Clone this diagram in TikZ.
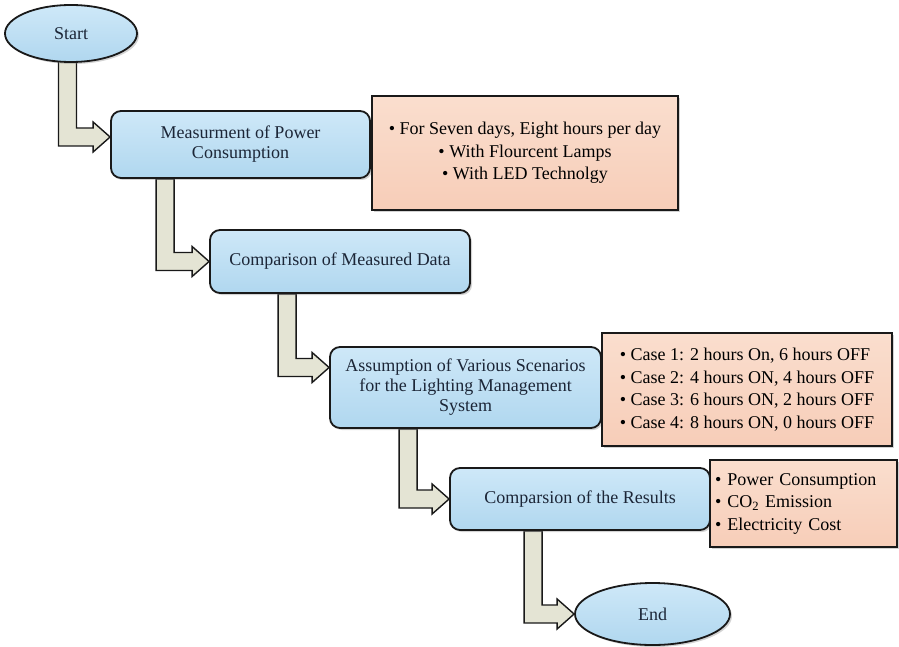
\documentclass[tikz,border=0pt]{standalone}
\usepackage{fontspec}
\setmainfont{Liberation Serif}
\usepackage{tikz}
\usetikzlibrary{positioning, shapes, shadows, calc, backgrounds}
\definecolor{boxblue}{RGB}{176,215,239}
\definecolor{boxtop}{RGB}{206,232,248}
\definecolor{peach}{RGB}{247,205,184}
\definecolor{peachtop}{RGB}{250,222,206}
\definecolor{shaftfill}{RGB}{228,228,212}
\definecolor{inkline}{RGB}{25,25,25}
\definecolor{txt}{RGB}{28,38,55}
\tikzset{
  flowbox/.style={draw=inkline, line width=1.8pt, rounded corners=10pt,
    top color=boxtop, bottom color=boxblue, text=txt, align=center,
    font=\fontsize{18}{20}\selectfont,
    drop shadow={shadow xshift=2pt, shadow yshift=-2pt, opacity=0.35}},
  term/.style={flowbox, ellipse, rounded corners=0pt},
  infobox/.style={draw=inkline, line width=1.8pt, top color=peachtop,
    bottom color=peach, text=black, font=\fontsize{18}{22.5}\selectfont,
    drop shadow={shadow xshift=2pt, shadow yshift=-2pt, opacity=0.35}},
  flowarr/.style={draw=inkline, line width=1.4pt, fill=shaftfill, line join=miter}}
% L-shaped block arrow: #1 top of the shaft, #2 tip
\newcommand{\flowarrow}[2]{%
  \draw[flowarr] let \p1=(#1), \p2=(#2) in
    (\x1-9pt,\y1) -- (\x1-9pt,\y2-9pt) -- (\x2-17pt,\y2-9pt) -- (\x2-17pt,\y2-15pt)
    -- (\x2,\y2) -- (\x2-17pt,\y2+15pt) -- (\x2-17pt,\y2+9pt) -- (\x1+9pt,\y2+9pt)
    -- (\x1+9pt,\y1) -- cycle;}

\begin{document}
\begin{tikzpicture}[x=1pt, y=-1pt]
  \useasboundingbox (0,0) rectangle (899,647);
  \node[term, minimum width=132pt, minimum height=57pt] (start) at (71,33.5) {Start};
  \node[flowbox, minimum width=259pt, minimum height=67pt] (a) at (240.5,144.5)
    {Measurment of Power\\Consumption};
  \node[flowbox, minimum width=260pt, minimum height=63pt] (b) at (340,261.5)
    {Comparison of Measured Data};
  \node[flowbox, minimum width=271pt, minimum height=81pt] (c) at (465.5,387.5)
    {Assumption of Various Scenarios\\for the Lighting Management\\System};
  \node[flowbox, minimum width=260pt, minimum height=62pt] (d) at (580,499)
    {Comparsion of the Results};
  \node[term, minimum width=155pt, minimum height=62pt] (stop) at (652.5,614) {End};
  \node[infobox, align=center, minimum width=306pt, minimum height=114pt] (i1) at (525,153)
    {\textbullet\ For Seven days, Eight hours per day\\\textbullet\ With Flourcent Lamps\\\textbullet\ With LED Technolgy};
  \node[infobox, align=left, minimum width=290pt, minimum height=113pt] (i2) at (747,389.5)
    {\textbullet\ Case 1: 2 hours On, 6 hours OFF\\\textbullet\ Case 2: 4 hours ON, 4 hours OFF\\
     \textbullet\ Case 3: 6 hours ON, 2 hours OFF\\\textbullet\ Case 4: 8 hours ON, 0 hours OFF};
  \node[infobox, align=left, text width=177pt, inner xsep=5pt, minimum height=87pt] (i3) at (803.5,503.5)
    {\textbullet\ Power Consumption\\\textbullet\ CO\textsubscript{2} Emission\\\textbullet\ Electricity Cost};
  \begin{scope}[on background layer]
    \flowarrow{$(start.center)+(-3.5,0)$}{$(a.west)+(0,-7.5)$}
    \flowarrow{$(a.south west)+(55,0)$}{b.west}
    \flowarrow{$(b.south west)+(78,0)$}{$(c.west)+(0,-20)$}
    \flowarrow{$(c.south west)+(79,0)$}{d.west}
    \flowarrow{$(d.south west)+(84,0)$}{stop.west}
  \end{scope}
\end{tikzpicture}
\end{document}
